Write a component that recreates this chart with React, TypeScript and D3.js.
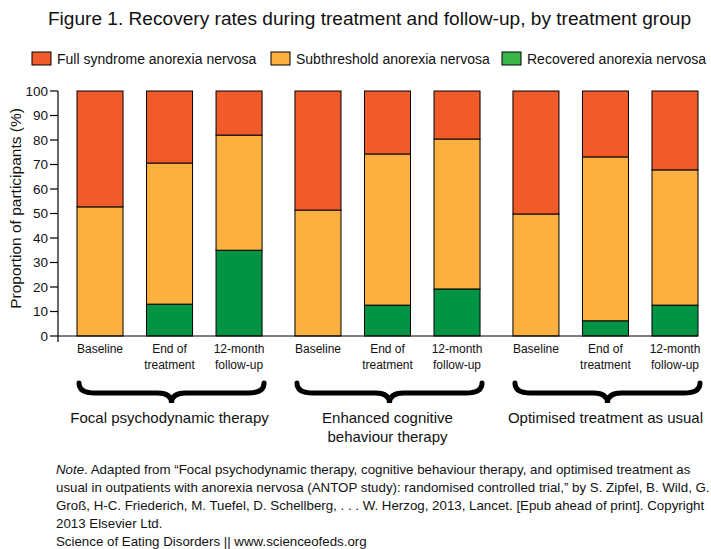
import React from 'react'
import * as d3 from 'd3'

const groups = ['Focal psychodynamic therapy', 'Enhanced cognitive behaviour therapy', 'Optimised treatment as usual']
const groupLabelLines = [['Focal psychodynamic therapy'], ['Enhanced cognitive', 'behaviour therapy'], ['Optimised treatment as usual']]
const stages = ['Baseline', 'End of treatment', '12-month follow-up']
const stageLabelLines = [['Baseline'], ['End of', 'treatment'], ['12-month', 'follow-up']]

const seriesKeys = ['recovered', 'subthreshold', 'full']
const seriesNames = ['Full syndrome anorexia nervosa', 'Subthreshold anorexia nervosa', 'Recovered anorexia nervosa']

// values in %, one entry per group x stage (group-major)
const recovered = [0, 13, 35, 0, 12.6, 19.2, 0, 6.2, 12.6]
const subthreshold = [52.7, 57.6, 47, 51.4, 61.7, 61.2, 49.8, 66.9, 55.2]
const full = [47.3, 29.4, 18, 48.6, 25.7, 19.6, 50.2, 26.9, 32.2]

const yTicks = [0, 10, 20, 30, 40, 50, 60, 70, 80, 90, 100]

const title = 'Figure 1. Recovery rates during treatment and follow-up, by treatment group'
const noteLines = [
  '. Adapted from \u201cFocal psychodynamic therapy, cognitive behaviour therapy, and optimised treatment as',
  'usual in outpatients with anorexia nervosa (ANTOP study): randomised controlled trial,\u201d by S. Zipfel, B. Wild, G.',
  'Gro\u00df, H-C. Friederich, M. Tuefel, D. Schellberg, . . . W. Herzog, 2013, Lancet. [Epub ahead of print]. Copyright',
  '2013 Elsevier Ltd.',
  'Science of Eating Disorders || www.scienceofeds.org',
]

const colors: Record<string, string> = {
  full: '#f15a29',
  subthreshold: '#fbb040',
  recovered: '#009444',
}
const legendColors = ['#f15a29', '#fbb040', '#39b54a']
const legendX = [32, 271, 502]

const W = 711
const H = 549
const font = '"Liberation Sans", Arial, sans-serif'

function bracePath(x1: number, x2: number, y: number) {
  const xm = (x1 + x2) / 2
  const mid = y + 10
  const tip = y + 20
  return `M${x1},${y} Q${x1},${mid} ${x1 + 16},${mid} L${xm - 14},${mid} Q${xm},${mid} ${xm},${tip} Q${xm},${mid} ${xm + 14},${mid} L${x2 - 16},${mid} Q${x2},${mid} ${x2},${y}`
}

export default function App() {
  const y = d3.scaleLinear().domain([0, 100]).range([336, 91])
  const xGroup = d3.scaleBand<string>().domain(groups).range([77, 698]).paddingInner(0.151).paddingOuter(0)
  const xStage = d3.scaleBand<string>().domain(stages).range([0, xGroup.bandwidth()]).paddingInner(0.338).paddingOuter(0)

  const rows = groups.flatMap((g, gi) =>
    stages.map((s, si) => {
      const i = gi * stages.length + si
      return { group: g, stage: s, recovered: recovered[i], subthreshold: subthreshold[i], full: full[i] }
    })
  )
  const stacked = d3.stack<any>().keys(seriesKeys)(rows)

  const barX = (d: any) => (xGroup(d.group) ?? 0) + (xStage(d.stage) ?? 0)

  return (
    <svg width={W} height={H} style={{ position: 'absolute', left: 0, top: 0, background: '#fff' }} fontFamily={font}>
      <text x={W / 2 + 14} y={25} textAnchor="middle" fontSize={19.1} fill="#111">{title}</text>

      {seriesNames.map((name, i) => (
        <g key={name}>
          <rect x={legendX[i]} y={52} width={19} height={13} fill={legendColors[i]} stroke="#000" strokeWidth={1} />
          <text x={legendX[i] + 25} y={64} fontSize={14} fill="#111">{name}</text>
        </g>
      ))}

      {stacked.map(series => (
        <g key={series.key}>
          {series.map((d, i) => {
            if (d[1] - d[0] <= 0) return null
            return (
              <rect
                key={i}
                x={barX(d.data)}
                y={y(d[1])}
                width={xStage.bandwidth()}
                height={y(d[0]) - y(d[1])}
                fill={colors[series.key]}
                stroke="#000"
                strokeWidth={1}
              />
            )
          })}
        </g>
      ))}

      <line x1={58} x2={58} y1={y(100)} y2={y(0) + 6} stroke="#000" strokeWidth={1.2} />
      <line x1={58} x2={698} y1={y(0)} y2={y(0)} stroke="#000" strokeWidth={1.2} />
      {yTicks.map(t => (
        <g key={t}>
          <line x1={50} x2={58} y1={y(t)} y2={y(t)} stroke="#000" strokeWidth={1.2} />
          <text x={48} y={y(t)} dy="0.35em" textAnchor="end" fontSize={13.5} fill="#111">{t}</text>
        </g>
      ))}
      <text transform={`translate(21,${(y(0) + y(100)) / 2 - 5}) rotate(-90)`} textAnchor="middle" fontSize={15.5} fill="#111">
        Proportion of participants (%)
      </text>

      {rows.map((d, i) => (
        <text key={i} x={barX(d) + xStage.bandwidth() / 2} y={353} textAnchor="middle" fontSize={12} fill="#111">
          {stageLabelLines[stages.indexOf(d.stage)].map((line, li) => (
            <tspan key={li} x={barX(d) + xStage.bandwidth() / 2} dy={li === 0 ? 0 : 16}>{line}</tspan>
          ))}
        </text>
      ))}

      {groups.map((g, gi) => {
        const x0 = xGroup(g) ?? 0
        const x1 = x0 + xGroup.bandwidth()
        const cx = (x0 + x1) / 2
        return (
          <g key={g}>
            <path d={bracePath(x0 + 2, x1 + 2, 383)} fill="none" stroke="#000" strokeWidth={5} strokeLinecap="round" />
            <text x={cx} y={423} textAnchor="middle" fontSize={15} fill="#111">
              {groupLabelLines[gi].map((line, li) => (
                <tspan key={li} x={cx} dy={li === 0 ? 0 : 18.5}>{line}</tspan>
              ))}
            </text>
          </g>
        )
      })}

      <text x={56} y={474} fontSize={13.3} fill="#111">
        <tspan fontStyle="italic">Note</tspan>
        <tspan>{noteLines[0]}</tspan>
      </text>
      {noteLines.slice(1).map((line, i) => (
        <text key={i} x={56} y={492.2 + i * 18} fontSize={13.3} fill="#111">{line}</text>
      ))}
    </svg>
  )
}
